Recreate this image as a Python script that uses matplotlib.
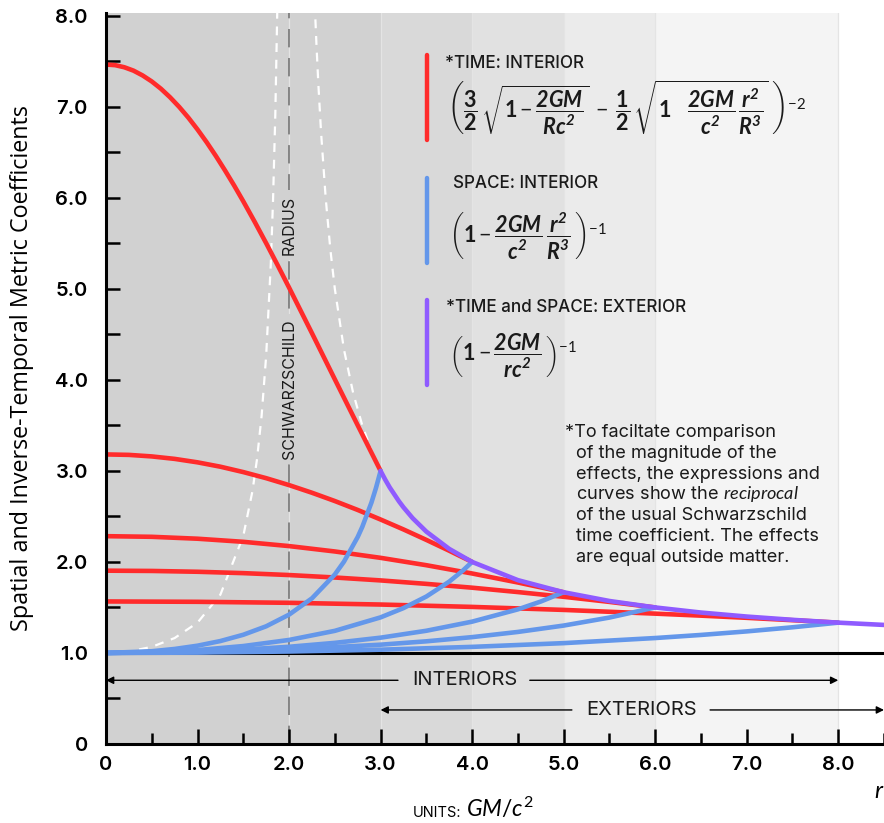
import matplotlib
matplotlib.use('Agg')
import matplotlib.pyplot as plt
from matplotlib.lines import Line2D
import numpy as np

plt.rcParams['font.family'] = ['Inter', 'Lato', 'DejaVu Sans']
plt.rcParams['mathtext.fontset'] = 'custom'
plt.rcParams['mathtext.rm'] = 'Lato'
plt.rcParams['mathtext.it'] = 'Lato:italic'
plt.rcParams['mathtext.bf'] = 'Lato:italic:bold'
plt.rcParams['mathtext.sf'] = 'Lato:bold'

# ---------------- data ----------------
# inverse time coefficient, interior, for stars of radius R = 3,4,5,6,8
r_t3 = [0, 0.1, 0.2, 0.3, 0.4, 0.5, 0.6, 0.7, 0.8, 0.9, 1.0, 1.1, 1.2, 1.3, 1.4, 1.5,
        1.625, 1.75, 1.875, 2.0, 2.25, 2.5, 2.75, 3.0]
t_R3 = [7.464, 7.457, 7.434, 7.397, 7.344, 7.278, 7.198, 7.104, 6.998, 6.880, 6.750,
        6.610, 6.460, 6.301, 6.135, 5.961, 5.735, 5.501, 5.260, 5.014, 4.513, 4.006, 3.501, 3.000]
r_t4 = [0, 0.25, 0.5, 0.75, 1.0, 1.25, 1.5, 1.75, 2.0, 2.25, 2.5, 2.75, 3.0, 3.25, 3.5, 3.75, 4.0]
t_R4 = [3.181, 3.176, 3.159, 3.132, 3.094, 3.046, 2.987, 2.920, 2.844, 2.760, 2.669, 2.571,
        2.466, 2.357, 2.242, 2.123, 2.000]
r_t5 = [0, 0.5, 1.0, 1.5, 2.0, 2.5, 3.0, 3.5, 4.0, 4.5, 5.0]
t_R5 = [2.283, 2.276, 2.255, 2.221, 2.174, 2.115, 2.045, 1.964, 1.873, 1.774, 1.667]
r_t6 = [0, 0.5, 1.0, 1.5, 2.0, 2.5, 3.0, 3.5, 4.0, 4.5, 5.0, 5.5, 6.0]
t_R6 = [1.904, 1.901, 1.892, 1.877, 1.856, 1.829, 1.797, 1.759, 1.717, 1.669, 1.617, 1.561, 1.500]
r_t8 = [0, 1, 2, 3, 4, 5, 6, 6.5, 7, 7.5, 8]
t_R8 = [1.566, 1.562, 1.551, 1.532, 1.506, 1.473, 1.432, 1.410, 1.386, 1.360, 1.333]

# space coefficient, interior
r_s3 = [0, 0.5, 0.75, 1.0, 1.25, 1.5, 1.75, 2.0, 2.25, 2.5, 2.6, 2.75, 2.8, 2.9, 2.95, 3.0]
s_R3 = [1.0, 1.019, 1.044, 1.080, 1.131, 1.200, 1.293, 1.421, 1.600, 1.862, 2.003, 2.274, 2.385, 2.652, 2.814, 3.0]
r_s4 = [0, 0.5, 1.0, 1.5, 2.0, 2.5, 3.0, 3.25, 3.5, 3.75, 3.9, 4.0]
s_R4 = [1.0, 1.008, 1.032, 1.076, 1.143, 1.243, 1.391, 1.493, 1.620, 1.784, 1.906, 2.0]
r_s5 = [0, 1.0, 1.5, 2.0, 2.5, 3.0, 3.5, 4.0, 4.5, 4.75, 5.0]
s_R5 = [1.0, 1.016, 1.037, 1.068, 1.111, 1.168, 1.244, 1.344, 1.479, 1.565, 1.667]
r_s6 = [0, 1, 2, 3, 3.5, 4, 4.5, 5, 5.5, 6]
s_R6 = [1.0, 1.009, 1.038, 1.091, 1.128, 1.174, 1.231, 1.301, 1.389, 1.5]
r_s8 = [0, 1, 2, 3, 4, 5, 6, 6.5, 7, 7.5, 8]
s_R8 = [1.0, 1.004, 1.016, 1.036, 1.067, 1.108, 1.164, 1.198, 1.237, 1.282, 1.333]

# exterior (time and space)
r_ext = [3.0, 3.05, 3.1, 3.2, 3.25, 3.35, 3.5, 3.75, 4.0, 4.5, 5.0, 5.5, 6.0, 6.5, 7.0, 7.5, 8.0, 8.5]
s_ext = [3.0, 2.905, 2.818, 2.667, 2.600, 2.481, 2.333, 2.143, 2.0, 1.8, 1.667, 1.571, 1.5, 1.444, 1.4, 1.364, 1.333, 1.308]

# white dashed guide curves around the Schwarzschild radius
r_dl = [0, 0.25, 0.5, 0.75, 1.0, 1.25, 1.5, 1.6, 1.65, 1.7, 1.75, 1.8, 1.825, 1.85, 1.875]
v_dl = [1.0, 1.016, 1.067, 1.164, 1.333, 1.641, 2.286, 2.778, 3.131, 3.604, 4.267, 5.263, 5.976, 6.926, 8.258]
r_dr = [2.28, 2.3, 2.32, 2.35, 2.4, 2.45, 2.5, 2.6, 2.7, 2.8, 2.9, 3.0]
v_dr = [8.143, 7.667, 7.25, 6.714, 6.0, 5.444, 5.0, 4.333, 3.857, 3.5, 3.222, 3.0]

region_edges = [0, 3, 4, 5, 6, 8, 8.5]
region_colors = ['#d1d1d1', '#d9d9d9', '#e1e1e1', '#ebebeb', '#f4f4f4', '#ffffff']

x_ticks = [0, 1, 2, 3, 4, 5, 6, 7, 8]
x_labels = ['0', '1.0', '2.0', '3.0', '4.0', '5.0', '6.0', '7.0', '8.0']
y_ticks = [0, 1, 2, 3, 4, 5, 6, 7, 8]
y_labels = ['0', '1.0', '2.0', '3.0', '4.0', '5.0', '6.0', '7.0', '8.0']

RED = '#ff2b2b'
BLUE = '#6497ea'
PURPLE = '#8f5bff'
INK = '#1a1a1a'

W, H = 884, 823
fig = plt.figure(figsize=(W / 100, H / 100), dpi=100)
ax = fig.add_axes([106 / W, 79 / H, 1 - 106 / W, (744 - 13) / H])
ax.set_xlim(0, 8.5)
ax.set_ylim(0, 8.03)

for i in range(len(region_colors)):
    ax.axvspan(region_edges[i], region_edges[i + 1], color=region_colors[i], lw=0, zorder=0)
for xb in [2, 3, 4, 5, 6, 8]:
    ax.axvline(xb, color='#e4e4e4', lw=0.9, zorder=0.5)

# Schwarzschild radius
ax.axvline(2, color='#6e6e6e', lw=1.1, dashes=(12, 7), zorder=1)
lab_kw = dict(rotation=90, ha='center', va='center', fontsize=11.5, color=INK,
              bbox=dict(facecolor='#d1d1d1', edgecolor='none', pad=4), zorder=1.5)
ax.text(2, 3.9, 'SCHWARZSCHILD', **lab_kw)
ax.text(2, 5.7, 'RADIUS', **lab_kw)

ax.plot(r_dl, v_dl, color='white', lw=1.6, dashes=(4, 3.5), zorder=1.6)
ax.plot(r_dr, v_dr, color='white', lw=1.6, dashes=(4, 3.5), zorder=1.6)

ax.axhline(1.0, color='black', lw=2.2, zorder=1.8)

lw = 3.3
for rr, vv in [(r_t3, t_R3), (r_t4, t_R4), (r_t5, t_R5), (r_t6, t_R6), (r_t8, t_R8)]:
    ax.plot(rr, vv, color=RED, lw=lw, solid_capstyle='round', solid_joinstyle='round', zorder=2)
for rr, vv in [(r_s3, s_R3), (r_s4, s_R4), (r_s5, s_R5), (r_s6, s_R6), (r_s8, s_R8)]:
    ax.plot(rr, vv, color=BLUE, lw=lw, solid_capstyle='round', solid_joinstyle='round', zorder=2.1)
ax.plot(r_ext, s_ext, color=PURPLE, lw=lw, solid_capstyle='round', solid_joinstyle='round', zorder=2.2)

# interior / exterior arrows
akw = dict(arrowstyle='-|>', color='black', lw=1.0, mutation_scale=11, shrinkA=0, shrinkB=0)
ax.annotate('', xy=(0.0, 0.70), xytext=(3.19, 0.70), arrowprops=akw, annotation_clip=False)
ax.annotate('', xy=(8.0, 0.70), xytext=(4.63, 0.70), arrowprops=akw, annotation_clip=False)
ax.text(3.92, 0.70, 'INTERIORS', ha='center', va='center', fontsize=14.5, color=INK)
ax.annotate('', xy=(3.0, 0.374), xytext=(5.09, 0.374), arrowprops=akw, annotation_clip=False)
ax.annotate('', xy=(8.5, 0.374), xytext=(6.6, 0.374), arrowprops=akw, annotation_clip=False)
ax.text(5.85, 0.374, 'EXTERIORS', ha='center', va='center', fontsize=14.5, color=INK)

# axes styling
for s in ['top', 'right']:
    ax.spines[s].set_visible(False)
for s in ['left', 'bottom']:
    ax.spines[s].set_linewidth(2.2)
    ax.spines[s].set_color('black')
ax.set_xticks(x_ticks, x_labels)
ax.set_xticks([0.5 + i for i in range(9)], minor=True)
ax.set_yticks(y_ticks, y_labels)
ax.set_yticks([0.5 + i for i in range(8)], minor=True)
ax.tick_params(axis='x', which='major', direction='in', length=11, width=1.8, pad=9,
               labelsize=14.5)
ax.tick_params(axis='x', which='minor', direction='in', length=8, width=1.8)
ax.tick_params(axis='y', which='both', direction='in', length=10, width=1.8, pad=13,
               labelsize=14.5)
for lab in ax.get_xticklabels() + ax.get_yticklabels():
    lab.set_fontweight('semibold')

def fx(x):
    return x / W

def fy(y):
    return 1 - y / H

fig.text(fx(22), fy(368), 'Spatial and Inverse-Temporal Metric Coefficients', rotation=90,
         ha='center', va='center', fontsize=16.8, family=['Open Sans', 'DejaVu Sans'])
fig.text(fx(461), fy(817), 'UNITS:', ha='right', va='baseline', fontsize=10.5)
fig.text(fx(466), fy(817), r'$GM/c^2$', ha='left', va='baseline', fontsize=16.5)
fig.text(fx(879), fy(798), r'$r$', ha='center', va='baseline', fontsize=17)

# legend bars
for (y0, y1, c) in [(55, 140, RED), (178, 263, BLUE), (300, 385, PURPLE)]:
    fig.add_artist(Line2D([fx(427), fx(427)], [fy(y0), fy(y1)], lw=3.2, color=c,
                          solid_capstyle='round'))

hkw = dict(ha='left', va='center', fontsize=12.3, fontweight='medium', color=INK)
fig.text(fx(445), fy(63), '*TIME: INTERIOR', **hkw)
fig.text(fx(453), fy(184), 'SPACE: INTERIOR', **hkw)
fig.text(fx(446), fy(307), '*TIME and SPACE: EXTERIOR', **hkw)

F1 = (r'$\left(\dfrac{\mathsf{3}}{\mathsf{2}}\,\sqrt{\mathsf{1}-\dfrac{\mathbf{2GM}}{\mathbf{Rc^2}}}'
      r'\;-\;\dfrac{\mathsf{1}}{\mathsf{2}}\,\sqrt{\mathsf{1}\quad\dfrac{\mathbf{2GM}}{\mathbf{c^2}}\,'
      r'\dfrac{\mathbf{r^2}}{\mathbf{R^3}}}\;\right)^{-2}$')
F2 = r'$\left(\mathsf{1}-\dfrac{\mathbf{2GM}}{\mathbf{c^2}}\,\dfrac{\mathbf{r^2}}{\mathbf{R^3}}\,\right)^{-1}$'
F3 = r'$\left(\mathsf{1}-\dfrac{\mathbf{2GM}}{\mathbf{rc^2}}\,\right)^{-1}$'
fkw = dict(ha='left', va='center', fontsize=15.5, color=INK)
fig.text(fx(447), fy(108), F1, **fkw)
fig.text(fx(449), fy(236), F2, **fkw)
fig.text(fx(449), fy(356), F3, **fkw)

note_lines = ['*To faciltate comparison',
              'of the magnitude of the',
              'effects, the expressions and',
              r'curves show the $\mathit{reciprocal}$',
              'of the usual Schwarzschild',
              'time coefficient. The effects',
              'are equal outside matter.']
for i, line in enumerate(note_lines):
    x0 = 565 if i == 0 else 576
    fig.text(fx(x0), fy(437 + i * 20.8), line, ha='left', va='baseline', fontsize=13.1,
             color=INK)

fig.savefig('out.png', dpi=100)
